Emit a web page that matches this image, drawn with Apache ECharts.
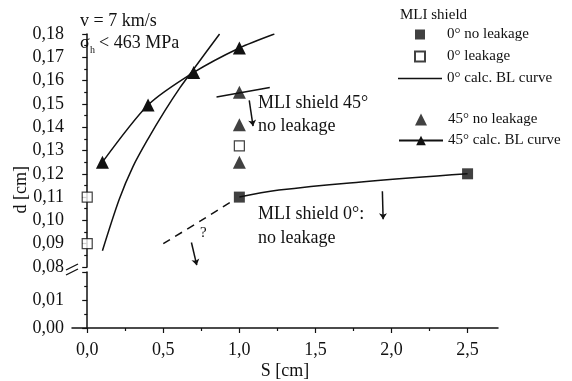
<!DOCTYPE html>
<html>
<head>
<meta charset="utf-8">
<script src="https://cdn.jsdelivr.net/npm/echarts@6/dist/echarts.min.js"></script>
<style>
  html, body { margin: 0; padding: 0; background: #fff; }
  #chart { width: 572px; height: 381px; }
</style>
</head>
<body>
<div id="chart"></div>
<script>
// tick values
var xTicks = [0, 0.5, 1.0, 1.5, 2.0, 2.5];
var xMinorTicks = [0.25, 0.75, 1.25, 1.75, 2.25];

// MLI shield 0 deg
var noLeak0 = [[1.0, 0.110], [2.5, 0.120]];
var leak0 = [[0.0, 0.110], [0.0, 0.090], [1.0, 0.132]];
var blCurve0 = [[0.10, 0.087], [0.21, 0.109], [0.30, 0.123], [0.40, 0.135], [0.51, 0.147], [0.61, 0.157], [0.70, 0.165], [0.87, 0.180]];
var blLine0 = [[1.0, 0.110], [1.26, 0.113], [1.8, 0.1165], [2.5, 0.120]];
var blDash0 = [[0.50, 0.090], [0.75, 0.100], [0.97, 0.109]];

// MLI shield 45 deg
var noLeak45 = [[1.0, 0.155], [1.0, 0.141], [1.0, 0.125]];
var blCurve45 = [[0.10, 0.125], [0.40, 0.1495], [0.70, 0.1635], [1.0, 0.174]];
var blCurve45End = [1.23, 0.180];
var blLine45 = [[0.85, 0.153], [1.2, 0.157]];

// arrows (from, to)
var arrows = [
  [[1.065, 0.1515], [1.09, 0.1405]],
  [[1.94, 0.1125], [1.945, 0.1005]],
  [[0.685, 0.0905], [0.72, 0.0808]]
];

var FONT = 'Liberation Serif';
var chart = echarts.init(document.getElementById('chart'));

function comma(v, d) { return v.toFixed(d).replace('.', ','); }

var lineBlack = { color: '#111', width: 1.5 };
var legendText = { fontFamily: FONT, fontSize: 15, color: '#111' };

var option = {
  animation: false,
  textStyle: { fontFamily: FONT, color: '#111' },
  grid: [
    { left: 72, top: 34, width: 426, height: 233 },
    { left: 72, top: 272, width: 426, height: 56 }
  ],
  xAxis: [
    { gridIndex: 0, type: 'value', min: -0.1, max: 2.7, show: false },
    {
      gridIndex: 1, type: 'value', min: -0.1, max: 2.7,
      name: 'S [cm]', nameLocation: 'middle', nameGap: 34,
      nameTextStyle: { fontFamily: FONT, fontSize: 18, color: '#111' },
      axisLine: { lineStyle: { color: '#111', width: 1.5 } },
      axisTick: { customValues: xTicks, length: 5, lineStyle: { color: '#111', width: 1.2 } },
      axisLabel: { customValues: xTicks, margin: 13, fontFamily: FONT, fontSize: 18, color: '#111',
        formatter: function (v) { return comma(v, 1); } },
      splitLine: { show: false }
    },
    {
      gridIndex: 1, type: 'value', min: -0.1, max: 2.7, position: 'bottom',
      axisLine: { show: false },
      axisTick: { customValues: xMinorTicks, length: 3, lineStyle: { color: '#111', width: 1.2 } },
      axisLabel: { show: false },
      splitLine: { show: false }
    }
  ],
  yAxis: [
    {
      gridIndex: 0, type: 'value', min: 0.08, max: 0.18, interval: 0.01,
      axisLine: { show: true, lineStyle: { color: '#111', width: 1.5 } },
      axisTick: { show: true, length: 5, lineStyle: { color: '#111', width: 1.2 } },
      minorTick: { show: true, splitNumber: 2, length: 3, lineStyle: { color: '#111', width: 1.2 } },
      axisLabel: { margin: 8, fontFamily: FONT, fontSize: 18, color: '#111',
        formatter: function (v) { return comma(v, 2); } },
      splitLine: { show: false }
    },
    {
      gridIndex: 1, type: 'value', min: 0, max: 0.02, interval: 0.01,
      axisLine: { show: true, lineStyle: { color: '#111', width: 1.5 } },
      axisTick: { show: true, length: 5, lineStyle: { color: '#111', width: 1.2 } },
      minorTick: { show: true, splitNumber: 2, length: 3, lineStyle: { color: '#111', width: 1.2 } },
      axisLabel: { margin: 8, fontFamily: FONT, fontSize: 18, color: '#111',
        formatter: function (v) { return v > 0.015 ? '' : comma(v, 2); } },
      splitLine: { show: false }
    }
  ],
  legend: [
    {
      data: [
        { name: '0° no leakage', icon: 'path://M0,0L10,0L10,10L0,10Z' },
        { name: '0° leakage', icon: 'path://M0,0L10,0L10,10L0,10Z' },
        { name: '0° calc. BL curve', icon: 'path://M0,0L44,0L44,1.5L0,1.5Z' }
      ],
      orient: 'vertical', left: 398, top: 27, padding: 0,
      itemWidth: 44, itemHeight: 10, itemGap: 7, symbolKeepAspect: true,
      textStyle: legendText
    },
    {
      data: [
        { name: '45° no leakage', icon: 'path://M5,0L10,10L0,10Z' },
        { name: '45° calc. BL curve' }
      ],
      orient: 'vertical', left: 398, top: 112, padding: 0,
      itemWidth: 44, itemHeight: 12, itemGap: 6, symbolKeepAspect: true,
      textStyle: legendText
    }
  ],
  series: [
    {
      name: '0° calc. BL curve', type: 'line', smooth: 0.3, symbol: 'none',
      data: blCurve0, lineStyle: lineBlack, itemStyle: { color: '#111' }
    },
    {
      name: 'bl0-right', type: 'line', smooth: 0.4, symbol: 'none',
      data: blLine0, lineStyle: lineBlack, z: 1
    },
    {
      name: 'bl0-dash', type: 'line', smooth: 0.3, symbol: 'none',
      data: blDash0, lineStyle: { color: '#111', width: 1.5, type: [8, 6] }
    },
    {
      name: '45° calc. BL curve', type: 'line', smooth: 0.25,
      symbol: 'triangle', symbolSize: 13,
      data: blCurve45.concat([{ value: blCurve45End, symbol: 'none' }]),
      lineStyle: lineBlack, itemStyle: { color: '#111' }
    },
    {
      name: 'bl45-short', type: 'line', symbol: 'none',
      data: blLine45, lineStyle: lineBlack
    },
    {
      name: 'arrows', type: 'lines', coordinateSystem: 'cartesian2d',
      symbol: ['none', 'arrow'], symbolSize: 6,
      lineStyle: { color: '#111', width: 1.5, opacity: 1 },
      data: arrows.map(function (a) { return { coords: a }; })
    },
    {
      name: '0° no leakage', type: 'scatter', symbol: 'rect', symbolSize: 11,
      data: noLeak0, itemStyle: { color: '#111' }, z: 5
    },
    {
      name: '0° leakage', type: 'scatter', symbol: 'rect', symbolSize: 10,
      data: leak0, itemStyle: { color: '#fff', borderColor: '#111', borderWidth: 1.2 }, z: 5
    },
    {
      name: '45° no leakage', type: 'scatter', symbol: 'triangle', symbolSize: 13,
      data: noLeak45, itemStyle: { color: '#111' }, z: 5
    }
  ],
  graphic: [
    { type: 'text', left: 80, top: 12, style: { text: 'v = 7 km/s', font: '18px ' + FONT, fill: '#111' } },
    { type: 'text', left: 80, top: 34, style: { text: 'σ', font: '18px ' + FONT, fill: '#111' } },
    { type: 'text', left: 90, top: 45, style: { text: 'h', font: '10px ' + FONT, fill: '#111' } },
    { type: 'text', left: 99, top: 34, style: { text: '< 463 MPa', font: '18px ' + FONT, fill: '#111' } },
    { type: 'text', left: 400, top: 8, style: { text: 'MLI shield', font: '15px ' + FONT, fill: '#111' } },
    { type: 'text', left: 258, top: 94, style: { text: 'MLI shield 45°', font: '18px ' + FONT, fill: '#111' } },
    { type: 'text', left: 258, top: 117, style: { text: 'no leakage', font: '18px ' + FONT, fill: '#111' } },
    { type: 'text', left: 258, top: 205, style: { text: 'MLI shield 0°:', font: '18px ' + FONT, fill: '#111' } },
    { type: 'text', left: 258, top: 229, style: { text: 'no leakage', font: '18px ' + FONT, fill: '#111' } },
    { type: 'text', left: 200, top: 226, style: { text: '?', font: '15px ' + FONT, fill: '#111' } },
    { type: 'text', left: 12, top: 166, rotation: Math.PI / 2, style: { text: 'd [cm]', font: '18px ' + FONT, fill: '#111' } },
    // axis break marks
    { type: 'line', shape: { x1: 66, y1: 270, x2: 78, y2: 264 }, style: { stroke: '#111', lineWidth: 1.3 } },
    { type: 'line', shape: { x1: 66, y1: 275, x2: 78, y2: 269 }, style: { stroke: '#111', lineWidth: 1.3 } }
  ]
};

chart.setOption(option);
window.addEventListener('resize', function () { chart.resize(); });
</script>
</body>
</html>
